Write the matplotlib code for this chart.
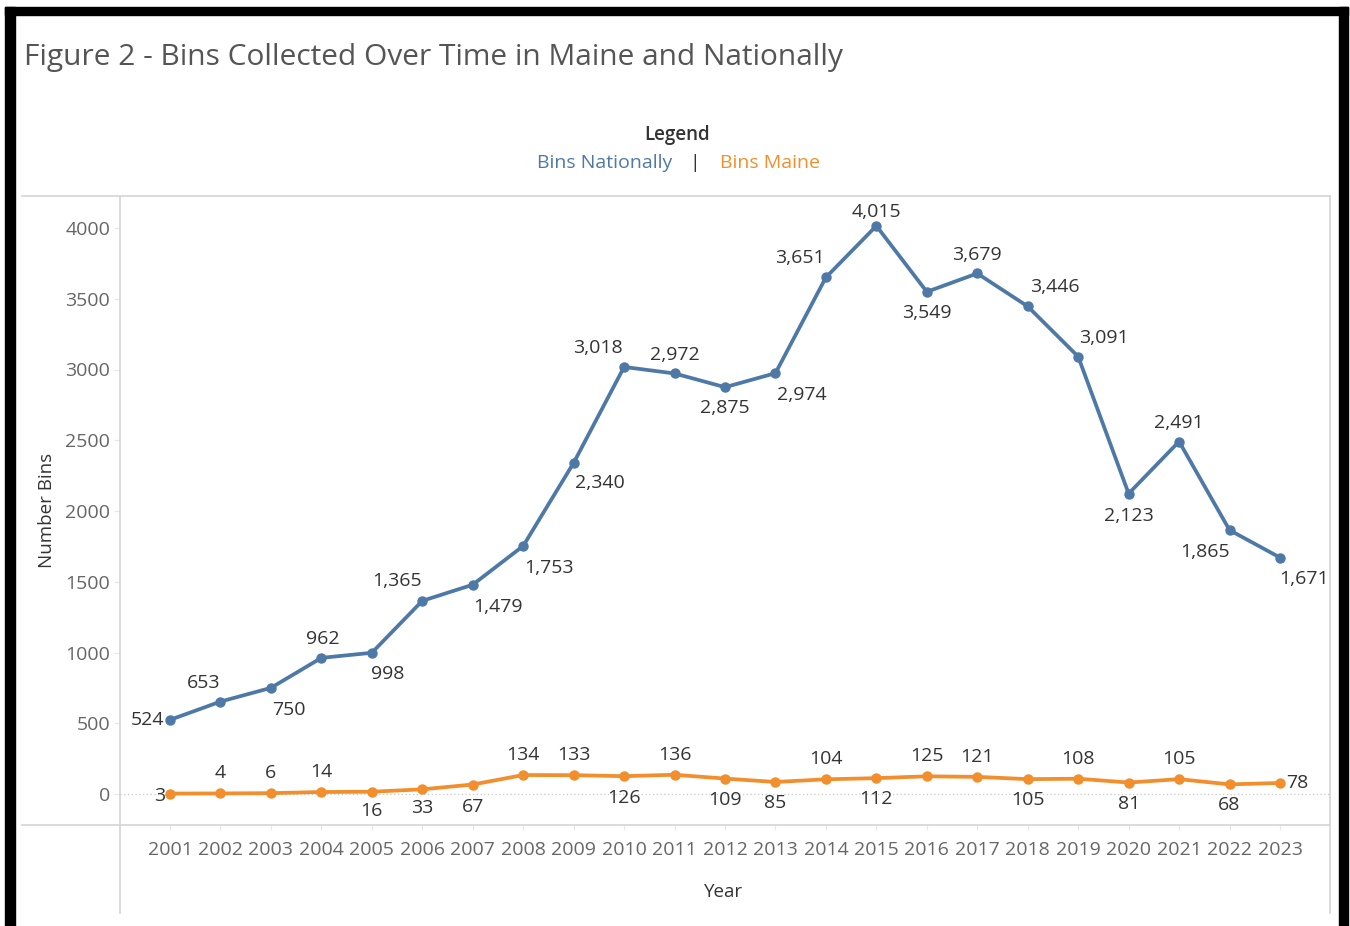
import matplotlib
matplotlib.use("Agg")
import matplotlib.pyplot as plt
from matplotlib.lines import Line2D
from matplotlib.patches import Rectangle

years = list(range(2001, 2024))
bins_national = [524, 653, 750, 962, 998, 1365, 1479, 1753, 2340, 3018, 2972, 2875,
                 2974, 3651, 4015, 3549, 3679, 3446, 3091, 2123, 2491, 1865, 1671]
bins_maine = [3, 4, 6, 14, 16, 33, 67, 134, 133, 126, 136, 109, 85, 104, 112, 125,
              121, 105, 108, 81, 105, 68, 78]
y_ticks = [0, 500, 1000, 1500, 2000, 2500, 3000, 3500, 4000]

# label offsets in pixels (dx, dy)
nat_off = [(-22, 0), (-17, 19), (18, -22), (1, 19), (16, -21), (-25, 20), (25, -22),
           (26, -22), (26, -20), (-26, 19), (0, 18), (0, -21), (26, -22), (-26, 19),
           (0, 14), (0, -21), (0, 18), (27, 19), (26, 19), (0, -22), (0, 19), (-25, -22),
           (24, -21)]
me_off = [(-12, -2), (0, 20), (0, 20), (0, 20), (0, -19), (0, -19), (0, -22), (0, 20),
          (0, 20), (0, -22), (0, 20), (0, -21), (0, -21), (0, 20), (0, -21), (0, 20),
          (0, 20), (0, -21), (0, 20), (0, -21), (0, 20), (0, -21), (17, 0)]

BLUE = "#4e79a7"
ORANGE = "#f28e2b"
FONT = "Open Sans"
plt.rcParams['font.family'] = [FONT, 'DejaVu Sans']
FS = 14

W, H = 1350, 926
fig = plt.figure(figsize=(W / 100, H / 100), dpi=100)
fig.patch.set_facecolor("white")

def fx(px):
    return px / W

def fy(py):
    return 1 - py / H

ax = fig.add_axes([fx(120), fy(825), fx(1330) - fx(120), fy(196) - fy(825)])
x0 = 2001 - 50 / 50.45
x1 = 2023 + 50 / 50.45
ax.set_xlim(x0, x1)
ymin = -(825 - 794) / 0.1415
ymax = (794 - 196) / 0.1415
ax.set_ylim(ymin, ymax)

for s in ax.spines.values():
    s.set_visible(False)

ax.axhline(0, color="#c8c8c8", lw=0.9, ls=(0, (1, 2)), zorder=1)

ax.plot(years, bins_national, color=BLUE, lw=2.7, marker="o", ms=6.5, zorder=3,
        solid_capstyle="round")
ax.plot(years, bins_maine, color=ORANGE, lw=2.7, marker="o", ms=6.5, zorder=3,
        solid_capstyle="round")

lab_col = "#333333"
for x, v, (dx, dy) in zip(years, bins_national, nat_off):
    ha = "center"
    if dx < -20 and dy == 0:
        ha = "right"
        dx = -6
    ax.annotate(f"{v:,}", (x, v), xytext=(dx, dy), textcoords="offset pixels",
                ha=ha, va="center", fontsize=FS, color=lab_col, zorder=4)
for x, v, (dx, dy) in zip(years, bins_maine, me_off):
    ha = "center"
    if dy == 0 and dx > 0:
        ha = "left"
        dx = 6
    elif dx < 0:
        ha = "right"
        dx = -5
    ax.annotate(f"{v:,}", (x, v), xytext=(dx, dy), textcoords="offset pixels",
                ha=ha, va="center", fontsize=FS, color=lab_col, zorder=4)

ax.set_yticks(y_ticks)
ax.set_yticklabels([str(t) for t in y_ticks])
ax.set_xticks(years)
ax.set_xticklabels([str(y) for y in years])
ax.tick_params(axis="y", length=4, width=0.8, color="#e6e6e6", labelsize=FS,
               labelcolor="#666666", pad=3)
ax.tick_params(axis="x", length=3.5, width=0.8, color="#e6e6e6", labelsize=FS,
               labelcolor="#666666", pad=8)

fig.text(fx(47), fy(510), "Number Bins", rotation=90, ha="center", va="center",
         fontsize=13.5, color="#333333")
fig.text(fx(724), fy(892), "Year", ha="center", va="center", fontsize=13.5,
         color="#333333")

# frame lines
grey = "#d4d4d4"
fig.add_artist(Line2D([fx(22), fx(1330)], [fy(196), fy(196)], color=grey, lw=1.2))
fig.add_artist(Line2D([fx(22), fx(1330)], [fy(825), fy(825)], color=grey, lw=1.2))
fig.add_artist(Line2D([fx(120), fx(120)], [fy(196), fy(913)], color=grey, lw=1.2))
fig.add_artist(Line2D([fx(1330), fx(1330)], [fy(196), fy(913)], color=grey, lw=1.2))

# title and legend
fig.text(fx(24), fy(57), "Figure 2 - Bins Collected Over Time in Maine and Nationally",
         ha="left", va="center", fontsize=21.5, color="#555555")
fig.text(fx(677), fy(135), "Legend", ha="center", va="center", fontsize=13.5,
         color="#333333", fontweight="semibold")
fig.text(fx(672), fy(163), "Bins Nationally", ha="right", va="center", fontsize=FS,
         color=BLUE)
fig.text(fx(695), fy(163), "|", ha="center", va="center", fontsize=FS, color="#333333")
fig.text(fx(720), fy(163), "Bins Maine", ha="left", va="center", fontsize=FS,
         color=ORANGE)

# black border
blk = "black"
fig.add_artist(Rectangle((fx(5), fy(15)), fx(1348) - fx(5), fy(7) - fy(15),
                         transform=fig.transFigure, color=blk))
fig.add_artist(Rectangle((fx(5), 0), fx(15) - fx(5), fy(7),
                         transform=fig.transFigure, color=blk))
fig.add_artist(Rectangle((fx(1339), 0), fx(1348) - fx(1339), fy(7),
                         transform=fig.transFigure, color=blk))

fig.savefig("out.png", dpi=100, facecolor="white")
